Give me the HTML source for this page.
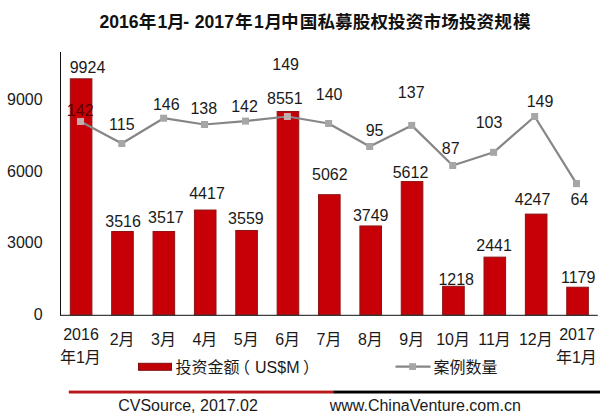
<!DOCTYPE html>
<html><head><meta charset="utf-8"><style>
html,body{margin:0;padding:0;background:#fff;}
body{width:609px;height:420px;overflow:hidden;position:relative;}
svg{position:absolute;left:0;top:0;}
.n{font-family:"Liberation Sans", Arial, sans-serif;font-size:16px;fill:#1a1a1a;}
.d{fill:#5a0000;}
.c{font-family:"Liberation Sans", "Noto Sans CJK SC", sans-serif;font-size:16px;fill:#1a1a1a;}
.t{font-family:"Liberation Sans", "Noto Sans CJK SC", sans-serif;font-size:17.6px;font-weight:bold;fill:#111;}
</style></head><body>
<svg width="609" height="420" viewBox="0 0 609 420">
<rect x="70.30" y="78.81" width="21.60" height="235.99" fill="#c60006" stroke="#8c1414" stroke-width="1"/>
<rect x="111.67" y="231.51" width="21.60" height="83.29" fill="#c60006" stroke="#8c1414" stroke-width="1"/>
<rect x="153.04" y="231.49" width="21.60" height="83.31" fill="#c60006" stroke="#8c1414" stroke-width="1"/>
<rect x="194.41" y="210.04" width="21.60" height="104.76" fill="#c60006" stroke="#8c1414" stroke-width="1"/>
<rect x="235.78" y="230.49" width="21.60" height="84.31" fill="#c60006" stroke="#8c1414" stroke-width="1"/>
<rect x="277.15" y="111.53" width="21.60" height="203.27" fill="#c60006" stroke="#8c1414" stroke-width="1"/>
<rect x="318.52" y="194.67" width="21.60" height="120.13" fill="#c60006" stroke="#8c1414" stroke-width="1"/>
<rect x="359.89" y="225.96" width="21.60" height="88.84" fill="#c60006" stroke="#8c1414" stroke-width="1"/>
<rect x="401.26" y="181.57" width="21.60" height="133.23" fill="#c60006" stroke="#8c1414" stroke-width="1"/>
<rect x="442.63" y="286.28" width="21.60" height="28.52" fill="#c60006" stroke="#8c1414" stroke-width="1"/>
<rect x="484.00" y="257.13" width="21.60" height="57.67" fill="#c60006" stroke="#8c1414" stroke-width="1"/>
<rect x="525.37" y="214.09" width="21.60" height="100.71" fill="#c60006" stroke="#8c1414" stroke-width="1"/>
<rect x="566.74" y="287.20" width="21.60" height="27.60" fill="#c60006" stroke="#8c1414" stroke-width="1"/>
<line x1="60.5" y1="52" x2="60.5" y2="315.3" stroke="#111" stroke-width="1"/>
<line x1="60" y1="315.3" x2="597.8" y2="315.3" stroke="#111" stroke-width="1"/>
<polyline points="80.50,121.50 121.80,143.50 163.60,118.20 204.50,124.50 245.50,121.10 287.40,116.50 328.60,123.50 369.70,146.50 411.70,125.40 452.70,165.50 493.60,152.30 534.70,116.50 576.50,183.60" fill="none" stroke="#868686" stroke-width="2.2" stroke-linejoin="round"/>
<rect x="77.00" y="118.00" width="7" height="7" fill="#c4acac"/>
<rect x="118.30" y="140.00" width="7" height="7" fill="#a6a6a6"/>
<rect x="160.10" y="114.70" width="7" height="7" fill="#a6a6a6"/>
<rect x="201.00" y="121.00" width="7" height="7" fill="#a6a6a6"/>
<rect x="242.00" y="117.60" width="7" height="7" fill="#a6a6a6"/>
<rect x="283.90" y="113.00" width="7" height="7" fill="#c4acac"/>
<rect x="325.10" y="120.00" width="7" height="7" fill="#a6a6a6"/>
<rect x="366.20" y="143.00" width="7" height="7" fill="#a6a6a6"/>
<rect x="408.20" y="121.90" width="7" height="7" fill="#a6a6a6"/>
<rect x="449.20" y="162.00" width="7" height="7" fill="#a6a6a6"/>
<rect x="490.10" y="148.80" width="7" height="7" fill="#a6a6a6"/>
<rect x="531.20" y="113.00" width="7" height="7" fill="#a6a6a6"/>
<rect x="573.00" y="180.10" width="7" height="7" fill="#a6a6a6"/>
<text x="42.6" y="319.90" text-anchor="end" class="n">0</text>
<text x="42.6" y="248.20" text-anchor="end" class="n">3000</text>
<text x="42.6" y="176.80" text-anchor="end" class="n">6000</text>
<text x="42.6" y="105.00" text-anchor="end" class="n">9000</text>
<text x="87.50" y="72.75" text-anchor="middle" class="n">9924</text>
<text x="123.10" y="226.75" text-anchor="middle" class="n">3516</text>
<text x="165.90" y="222.75" text-anchor="middle" class="n">3517</text>
<text x="207.00" y="198.95" text-anchor="middle" class="n">4417</text>
<text x="245.90" y="223.75" text-anchor="middle" class="n">3559</text>
<text x="284.80" y="104.25" text-anchor="middle" class="n">8551</text>
<text x="329.80" y="179.95" text-anchor="middle" class="n">5062</text>
<text x="370.70" y="221.35" text-anchor="middle" class="n">3749</text>
<text x="410.50" y="178.45" text-anchor="middle" class="n">5612</text>
<text x="456.20" y="284.55" text-anchor="middle" class="n">1218</text>
<text x="494.10" y="250.95" text-anchor="middle" class="n">2441</text>
<text x="532.60" y="204.95" text-anchor="middle" class="n">4247</text>
<text x="578.20" y="283.45" text-anchor="middle" class="n">1179</text>
<text x="80.20" y="115.55" text-anchor="middle" class="n d">142</text>
<text x="121.80" y="129.95" text-anchor="middle" class="n">115</text>
<text x="166.30" y="109.95" text-anchor="middle" class="n">146</text>
<text x="203.80" y="113.95" text-anchor="middle" class="n">138</text>
<text x="244.50" y="111.95" text-anchor="middle" class="n">142</text>
<text x="285.60" y="69.95" text-anchor="middle" class="n">149</text>
<text x="329.10" y="100.05" text-anchor="middle" class="n">140</text>
<text x="374.60" y="136.15" text-anchor="middle" class="n">95</text>
<text x="411.20" y="97.95" text-anchor="middle" class="n">137</text>
<text x="450.70" y="153.95" text-anchor="middle" class="n">87</text>
<text x="489.00" y="128.15" text-anchor="middle" class="n">103</text>
<text x="540.00" y="107.45" text-anchor="middle" class="n">149</text>
<text x="579.50" y="204.95" text-anchor="middle" class="n">64</text>
<text x="122.17" y="344.8" text-anchor="middle" class="c">2月</text>
<text x="163.54" y="344.8" text-anchor="middle" class="c">3月</text>
<text x="204.91" y="344.8" text-anchor="middle" class="c">4月</text>
<text x="246.28" y="344.8" text-anchor="middle" class="c">5月</text>
<text x="287.65" y="344.8" text-anchor="middle" class="c">6月</text>
<text x="329.02" y="344.8" text-anchor="middle" class="c">7月</text>
<text x="370.39" y="344.8" text-anchor="middle" class="c">8月</text>
<text x="411.76" y="344.8" text-anchor="middle" class="c">9月</text>
<text x="453.13" y="344.8" text-anchor="middle" class="c">10月</text>
<text x="494.50" y="344.8" text-anchor="middle" class="c">11月</text>
<text x="535.87" y="344.8" text-anchor="middle" class="c">12月</text>
<text x="81.00" y="339.6" text-anchor="middle" class="n">2016</text>
<text x="80.40" y="362.6" text-anchor="middle" class="c">年1月</text>
<text x="577.00" y="339.6" text-anchor="middle" class="n">2017</text>
<text x="576.40" y="362.6" text-anchor="middle" class="c">年1月</text>
<rect x="138.5" y="363.3" width="33" height="7" fill="#c20008" stroke="#7c1010" stroke-width="1"/>
<text y="373" class="c"><tspan x="175.5">投资金额</tspan><tspan x="233.9">（</tspan><tspan x="255">US$M</tspan><tspan x="302.9">）</tspan></text>
<line x1="395.5" y1="366.6" x2="430.5" y2="366.6" stroke="#868686" stroke-width="2.2"/>
<rect x="409.2" y="363.2" width="6.8" height="6.8" fill="#a6a6a6"/>
<text x="433.6" y="373" class="c">案例数量</text>
<rect x="68.8" y="390.6" width="265" height="2.9" fill="#b8181c"/>
<rect x="333.5" y="390.6" width="266.5" height="2.9" fill="#000"/>
<text x="118.2" y="411.3" class="n">CVSource, 2017.02</text>
<text x="329.7" y="411.3" class="n">www.ChinaVenture.com.cn</text>
<text y="27.7" class="t"><tspan x="99.5">2016</tspan><tspan x="138.8">年</tspan><tspan x="157.6">1</tspan><tspan x="167.1">月</tspan><tspan x="183.3">- </tspan><tspan x="194.8">2017</tspan><tspan x="235.1">年</tspan><tspan x="254.0">1</tspan><tspan x="264.6">月</tspan><tspan x="281.0">中</tspan><tspan x="299.7">国</tspan><tspan x="317.4">私</tspan><tspan x="335.1">募</tspan><tspan x="352.8">股</tspan><tspan x="370.4">权</tspan><tspan x="388.1">投</tspan><tspan x="405.8">资</tspan><tspan x="423.5">市</tspan><tspan x="441.2">场</tspan><tspan x="458.9">投</tspan><tspan x="476.6">资</tspan><tspan x="494.3">规</tspan><tspan x="513.0">模</tspan></text>
</svg>
</body></html>
